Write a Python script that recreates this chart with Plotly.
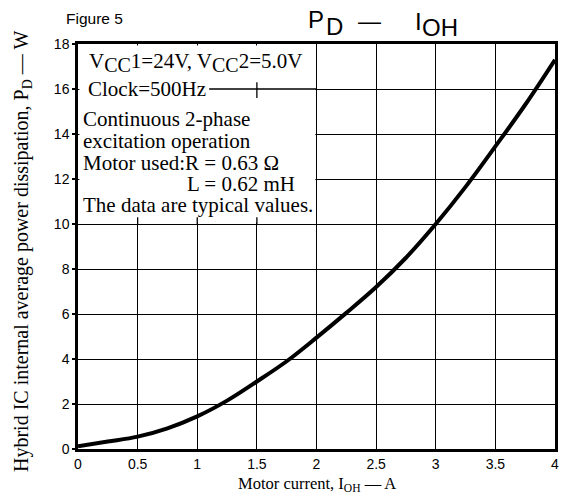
import plotly.graph_objects as go

# Data
current_a = [0.0, 0.25, 0.5, 0.75, 1.0, 1.25, 1.5, 1.75, 2.0, 2.25, 2.5, 2.75, 3.0, 3.25, 3.5, 3.75, 4.0]
power_w = [0.12, 0.33, 0.55, 0.92, 1.45, 2.15, 3.0, 3.9, 4.95, 6.05, 7.2, 8.5, 10.0, 11.65, 13.45, 15.3, 17.3]

x_ticks = [0, 0.5, 1, 1.5, 2, 2.5, 3, 3.5, 4]
x_tick_labels = ["0", "0.5", "1", "1.5", "2", "2.5", "3", "3.5", "4"]
y_ticks = [0, 2, 4, 6, 8, 10, 12, 14, 16, 18]

SUB = "<sub><span style='font-size:20px'>CC</span></sub>"
note_lines = [
    "V" + SUB + "1=24V, V" + SUB + "2=5.0V",
    "Clock=500Hz",
    "Continuous 2-phase",
    "excitation operation",
    "Motor used:R = 0.63 Ω",
    "L = 0.62 mH",
    "The data are typical values.",
]
note_x = [0.073, 0.068, 0.026, 0.026, 0.026, 0.895, 0.026]
note_y = [17.2, 16.0, 14.67, 13.7, 12.72, 11.8, 10.86]

SERIF = "Liberation Serif, Times New Roman, serif"
SANS = "Liberation Sans, Arial, sans-serif"

W, H = 584, 497
L, R, T, B = 70, 37, 36, 56
PW, PH = W - L - R, H - T - B


def px(xp):
    return (xp - L) / PW


def py(yp):
    return 1 + (T - yp) / PH


fig = go.Figure()
fig.add_trace(go.Scatter(
    x=current_a, y=power_w, mode="lines",
    line=dict(color="black", width=4, shape="spline", smoothing=1.0),
    hoverinfo="skip", showlegend=False,
))

shapes = [
    dict(type="rect", xref="x", yref="y", x0=0.012, x1=1.99, y0=10.07, y1=17.93,
         fillcolor="white", line=dict(width=0), layer="between"),
    dict(type="line", xref="x", yref="y", x0=1.10, x1=2.0, y0=16, y1=16,
         line=dict(color="black", width=1.3), layer="between"),
    dict(type="line", xref="x", yref="y", x0=1.5, x1=1.5, y0=15.6, y1=16.3,
         line=dict(color="black", width=1.3), layer="between"),
]
for tx in [0.5, 1.0, 1.5]:
    shapes.append(dict(type="line", xref="x", yref="y", x0=tx, x1=tx, y0=10, y1=10.3,
                       line=dict(color="black", width=1.3), layer="between"))

annotations = []
for txt, ax_, ay_ in zip(note_lines, note_x, note_y):
    annotations.append(dict(
        text=txt, x=ax_, y=ay_, xref="x", yref="y", xanchor="left", yanchor="middle",
        showarrow=False, font=dict(family=SERIF, size=21, color="black"),
    ))

# Title pieces
title_font = dict(family=SANS, size=24, color="black")
for txt, xp, yp in [("P", 298, 12), ("D", 316, 19), ("I", 405, 13), ("OH", 412, 19.5)]:
    annotations.append(dict(text=txt, xref="paper", yref="paper", x=px(xp), y=py(yp),
                            xanchor="left", yanchor="middle", showarrow=False, font=title_font))
annotations.append(dict(text="—", xref="paper", yref="paper", x=px(361), y=py(13),
                        xanchor="center", yanchor="middle", showarrow=False,
                        font=dict(family=SANS, size=23, color="black")))

annotations.append(dict(text="Figure 5", xref="paper", yref="paper", x=px(56), y=py(11),
                        xanchor="left", yanchor="middle", showarrow=False,
                        font=dict(family=SANS, size=15.5, color="black")))

# Axis titles
annotations.append(dict(text="Motor current, I<sub>OH</sub> — A", xref="paper", yref="paper",
                        x=0.5, y=py(476), xanchor="center", yanchor="middle", showarrow=False,
                        font=dict(family=SERIF, size=16.5, color="black")))
annotations.append(dict(text="Hybrid IC internal average power dissipation, P<sub>D</sub> — W",
                        xref="paper", yref="paper", x=px(14), y=py(244), textangle=-90,
                        xanchor="center", yanchor="middle", showarrow=False,
                        font=dict(family=SERIF, size=20, color="black")))

fig.update_layout(
    width=W, height=H,
    margin=dict(l=L, r=R, t=T, b=B),
    paper_bgcolor="white", plot_bgcolor="white",
    xaxis=dict(
        range=[0, 4], tickvals=x_ticks, ticktext=x_tick_labels,
        showgrid=True, gridcolor="black", gridwidth=1.3,
        showline=True, linecolor="black", linewidth=2.5, mirror=True,
        ticks="", zeroline=False, automargin=False,
        tickfont=dict(family=SANS, size=14, color="black"),
    ),
    yaxis=dict(
        range=[0, 18], tickvals=y_ticks,
        showgrid=True, gridcolor="black", gridwidth=1.3,
        showline=True, linecolor="black", linewidth=2.5, mirror=True,
        ticks="outside", ticklen=3, tickwidth=1.5, tickcolor="black",
        zeroline=False, automargin=False,
        tickfont=dict(family=SANS, size=14, color="black"),
    ),
    shapes=shapes,
    annotations=annotations,
)

fig.write_html("out.html")
